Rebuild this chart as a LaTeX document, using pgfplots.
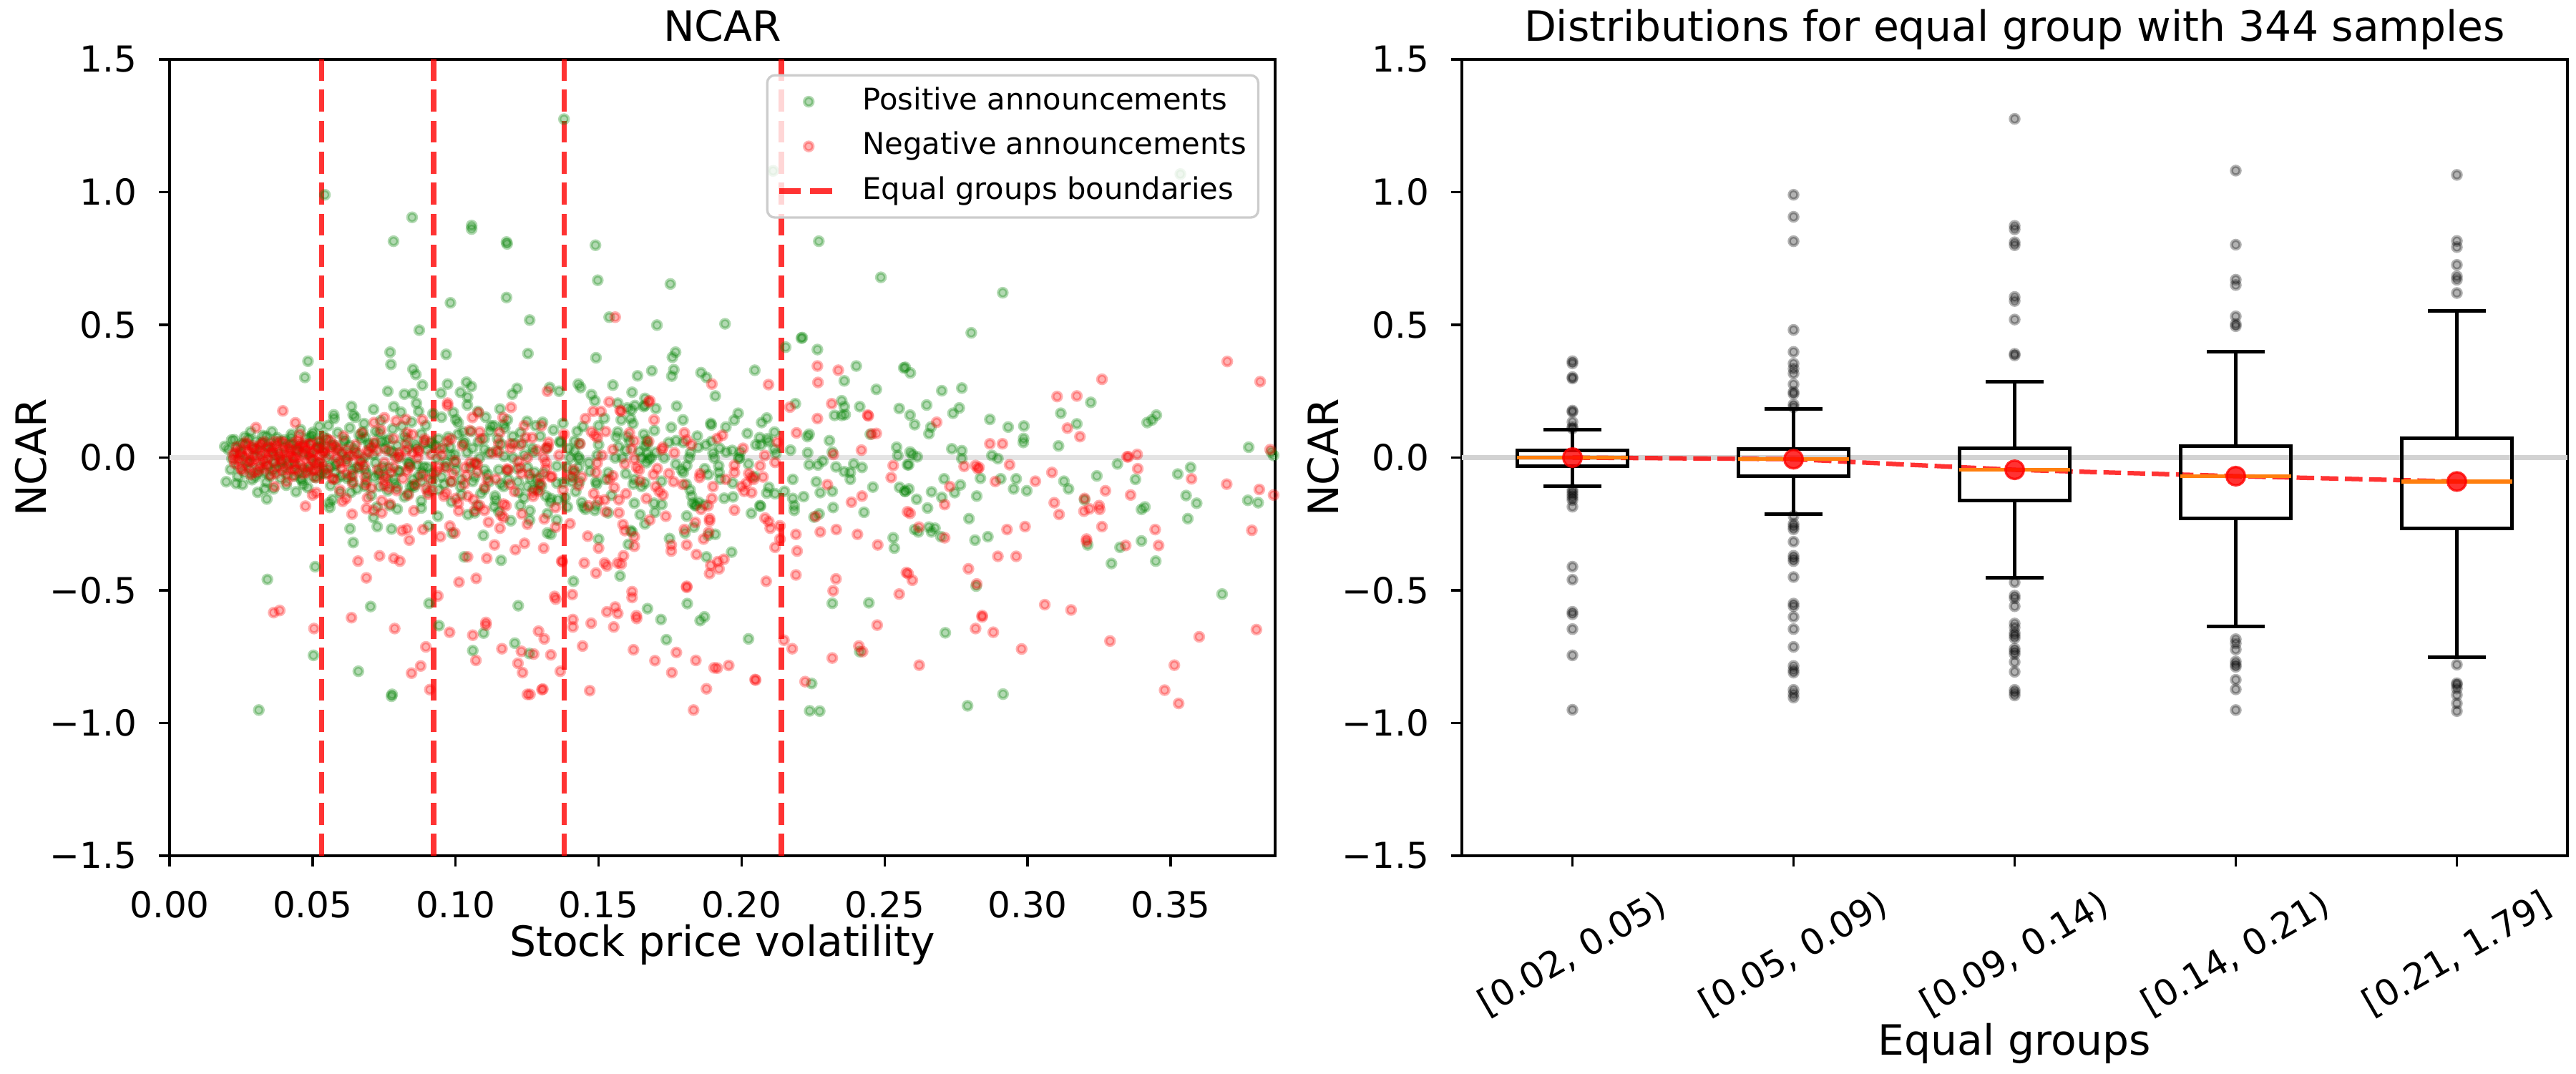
\documentclass[border=0pt]{standalone}
\usepackage{fontspec}
\setmainfont{DejaVu Sans}
\usepackage{pgfplots}
\pgfplotsset{compat=1.18}
\definecolor{mplgreen}{RGB}{0,128,0}
\definecolor{mplorange}{RGB}{255,127,14}
\definecolor{zeroA}{RGB}{228,228,228}
\definecolor{zeroB}{RGB}{210,210,210}
\pgfplotsset{
  mpl/.style={
    scale only axis, width=370.8pt, height=267.12pt, anchor=south west,
    axis line style={line width=0.8pt, black},
    tick align=outside, major tick length=3.5pt, tick pos=left,
    every tick/.style={black, line width=0.8pt},
    ymin=-1.5, ymax=1.5,
    ytick={-1.5,-1,-0.5,0,0.5,1,1.5},
    yticklabels={−1.5,−1.0,−0.5,0.0,0.5,1.0,1.5},
    ticklabel style={font=\fontsize{12}{14}\selectfont},
    yticklabel style={anchor=east, inner sep=0pt, xshift=-7.3pt},
    every axis y label/.style={at={(axis description cs:-0.1119,0.5)}, rotate=90, anchor=base, inner sep=0pt, font=\fontsize{14}{17}\selectfont},
    legend image code/.code={\draw[mark repeat=2,mark phase=2,##1] plot coordinates {(0pt,0pt) (10pt,0pt) (20pt,0pt)};},
  },
  gmark/.style={only marks, mark=*, mark size=1.45pt, mark options={draw=mplgreen, fill=mplgreen, opacity=0.3, line width=1.05pt}},
  rmark/.style={only marks, mark=*, mark size=1.45pt, mark options={draw=red, fill=red, opacity=0.3, line width=1.05pt}},
  kmark/.style={only marks, mark=*, mark size=1.45pt, mark options={draw=black, fill=black, opacity=0.3, line width=1.05pt}},
  bound/.style={red, opacity=0.8, line width=1.8pt, dash pattern=on 7.4pt off 3.0pt},
  bxl/.style={black, line width=1.2pt, line join=miter, unbounded coords=jump, forget plot},
}
\begin{document}
\begin{tikzpicture}
\useasboundingbox (0,0) rectangle (864pt,360pt);
% ---------------- left ----------------
\begin{axis}[mpl, at={(56.88pt,72.96pt)},
  xmin=0, xmax=0.38654,
  xtick={0,0.05,0.1,0.15,0.2,0.25,0.3,0.35},
  xticklabels={0.00,0.05,0.10,0.15,0.20,0.25,0.30,0.35},
  xticklabel style={anchor=north, inner sep=0pt, yshift=-8.1pt},
  every axis x label/.style={at={(axis description cs:0.5,0)}, anchor=north, yshift=-22.8pt, inner sep=0pt, font=\fontsize{14}{17}\selectfont},
  xlabel={Stock price volatility}, ylabel={NCAR},
  extra description/.code={\node[anchor=base, inner sep=0pt, font=\fontsize{14}{17}\selectfont] at (0.5,1.0225) {NCAR};},
  legend style={at={(0.9858,0.9815)}, anchor=north east, draw=black!20, line width=0.8pt,
    rounded corners=2.5pt, fill=white, fill opacity=0.8, text opacity=1,
    font=\fontsize{10}{12}\selectfont, inner xsep=3pt, inner ysep=3pt, row sep=3.3pt,
    nodes={inner sep=1pt, text height=7.5pt, text depth=2.2pt},
    /tikz/every odd column/.append style={column sep=6.2pt}},
  legend cell align=left,
]
\addplot[zeroA, line width=1.5pt, forget plot] coordinates {(0,0) (0.38654,0)};
% positive announcements
\addplot[gmark] coordinates {
(0.0543,0.990)(0.0848,0.905)(0.0783,0.815)(0.1056,0.874)(0.1056,0.861)(0.1178,0.812)(0.1180,0.805)(0.1489,0.800)(0.1379,1.275)(0.1497,0.668)(0.1751,0.654)(0.1178,0.603)(0.0982,0.583)(0.2270,0.815)(0.2487,0.679)(0.2913,0.621)(0.2110,1.080)(0.3534,1.068)
(0.0312,-0.951)(0.0503,-0.745)(0.0660,-0.805)(0.0776,-0.899)(0.0778,-0.892)(0.0942,-0.633)(0.1060,-0.727)(0.1098,-0.661)(0.1207,-0.699)(0.1258,-0.738)(0.1737,-0.686)(0.1718,-0.610)(0.1855,-0.614)(0.1870,-0.600)(0.2024,-0.683)(0.2245,-0.851)(0.2238,-0.954)(0.2273,-0.955)(0.2413,-0.731)(0.2712,-0.660)(0.2790,-0.935)(0.2914,-0.891)
(0.0873,0.480)(0.0484,0.363)(0.0473,0.302)(0.0771,0.397)(0.0774,0.351)(0.0967,0.389)(0.1259,0.518)(0.1253,0.392)(0.0851,0.333)(0.0861,0.313)(0.0884,0.273)(0.0763,0.250)(0.0821,0.239)(0.0851,0.241)(0.0863,0.205)(0.0871,0.174)(0.0949,0.243)(0.0972,0.277)(0.1017,0.246)(0.1038,0.284)(0.1055,0.268)(0.1042,0.228)(0.1041,0.198)(0.1198,0.239)(0.1215,0.261)(0.1155,0.183)(0.1134,0.120)(0.1172,0.111)(0.1168,0.125)(0.0636,0.193)(0.0649,0.152)(0.0574,0.161)(0.0575,0.147)(0.0713,0.182)(0.0784,0.192)(0.0921,0.165)(0.1001,0.143)(0.0992,0.170)(0.1105,0.152)(0.1100,0.071)(0.0217,0.066)(0.0193,0.042)(0.0263,0.078)(0.0338,0.080)(0.0425,0.075)(0.0500,0.084)
(0.0198,-0.091)(0.0255,-0.102)(0.0340,-0.156)(0.0363,-0.118)(0.0442,-0.129)(0.0467,-0.102)(0.0570,-0.158)(0.0560,-0.188)(0.0634,-0.131)(0.0631,-0.268)(0.0642,-0.320)(0.0726,-0.260)(0.0713,-0.226)(0.0776,-0.269)(0.0796,-0.194)(0.0771,-0.181)(0.0795,-0.113)(0.0851,-0.104)(0.0880,-0.163)(0.0880,-0.190)(0.0938,-0.221)(0.0905,-0.257)(0.0988,-0.284)(0.1030,-0.374)(0.1097,-0.293)(0.1159,-0.387)(0.1151,-0.203)(0.1226,-0.180)(0.1259,-0.235)(0.1272,-0.118)(0.1067,-0.208)(0.1076,-0.180)(0.1138,-0.145)(0.0509,-0.411)(0.0342,-0.459)(0.0703,-0.561)(0.0907,-0.549)(0.1219,-0.558)
(0.0676,0.097)(0.0684,0.075)(0.0734,0.093)(0.0717,0.053)(0.0751,0.035)(0.0767,0.070)(0.0834,0.035)(0.0892,0.053)(0.0959,0.035)(0.0984,0.008)(0.1026,0.097)(0.1059,0.035)(0.1084,-0.001)(0.1117,0.017)(0.1143,0.026)(0.1201,-0.001)(0.1234,0.053)(0.1268,0.035)(0.1251,-0.037)(0.1184,-0.082)(0.1151,-0.046)(0.1101,-0.046)(0.1051,-0.037)(0.1001,-0.046)(0.0967,-0.019)(0.0934,-0.001)(0.0901,-0.037)(0.0867,-0.028)(0.0834,-0.019)(0.0801,-0.001)(0.0767,-0.037)(0.0734,-0.055)(0.0717,-0.073)(0.0684,-0.046)(0.0650,-0.037)(0.0617,-0.001)(0.0584,-0.019)(0.0550,-0.001)(0.0517,0.035)(0.0492,0.079)(0.0467,0.017)(0.0434,-0.019)(0.0400,-0.037)(0.0367,-0.019)(0.0334,-0.055)(0.0300,-0.073)(0.0275,-0.019)(0.0250,0.017)(0.0234,0.035)(0.0292,0.035)(0.0350,0.035)(0.0384,0.017)(0.0450,-0.055)(0.0500,-0.073)(0.0542,-0.046)(0.0584,-0.082)(0.0634,-0.073)(0.0684,-0.109)(0.0734,-0.109)(0.0784,-0.082)(0.0851,-0.082)(0.0884,-0.055)(0.0917,-0.091)(0.0951,-0.073)(0.0984,-0.091)(0.1017,-0.109)(0.1067,-0.073)(0.1117,-0.091)(0.1168,-0.109)(0.1218,-0.091)(0.1251,-0.109)(0.1276,-0.055)(0.0834,-0.136)(0.0842,-0.109)(0.1026,0.053)(0.1009,0.088)
(0.024,-0.03)(0.026,0.05)(0.028,-0.045)(0.030,0.03)(0.031,-0.06)(0.032,0.055)(0.033,-0.01)(0.034,0.045)(0.035,-0.07)(0.036,0.02)(0.037,-0.04)(0.038,0.06)(0.039,-0.02)(0.040,0.04)(0.041,-0.065)(0.042,0.01)(0.043,0.05)(0.044,-0.03)(0.045,0.025)(0.046,-0.08)(0.047,0.045)(0.048,-0.05)(0.049,0.015)(0.050,0.06)(0.051,-0.025)(0.052,0.04)(0.053,-0.06)(0.054,0.02)(0.055,0.07)(0.056,-0.035)(0.057,0.05)(0.058,-0.055)(0.059,0.03)(0.060,-0.07)(0.061,0.06)(0.062,-0.01)(0.063,0.045)(0.064,-0.09)(0.065,0.02)(0.066,-0.04)(0.067,0.07)(0.068,0.0)(0.069,-0.06)(0.070,0.04)(0.072,-0.02)(0.074,0.06)(0.076,-0.075)(0.078,0.02)(0.080,-0.05)(0.082,0.08)(0.084,-0.03)(0.086,0.05)(0.088,-0.09)(0.090,0.03)(0.092,-0.06)(0.094,0.07)(0.096,-0.1)(0.098,0.04)(0.100,-0.02)(0.102,-0.14)(0.104,0.02)(0.106,-0.09)(0.108,0.06)(0.110,-0.12)(0.112,0.1)(0.114,-0.16)(0.116,0.05)(0.118,-0.05)(0.120,0.08)(0.122,-0.13)(0.124,0.01)(0.126,-0.2)(0.128,0.12)
(0.0205,0.031)(0.0213,-0.045)(0.0226,0.067)(0.0238,-0.071)(0.0251,0.052)(0.0263,-0.058)(0.0276,0.071)(0.0288,-0.083)(0.0301,0.062)(0.0313,-0.038)(0.0326,0.083)(0.0338,-0.092)(0.0351,0.057)(0.0363,-0.049)(0.0376,0.075)(0.0388,-0.078)(0.0401,0.066)(0.0413,-0.026)(0.0426,0.088)(0.0438,-0.069)(0.0451,0.048)(0.0463,-0.085)(0.0476,0.072)(0.0488,-0.039)(0.0501,0.095)(0.0513,-0.075)(0.0526,0.058)(0.0218,-0.004)(0.0243,0.014)(0.0268,-0.014)(0.0293,0.004)(0.0318,0.024)(0.0343,-0.029)(0.0368,0.007)(0.0393,-0.012)(0.0418,0.051)(0.0443,0.031)(0.0468,-0.041)(0.0493,0.002)(0.0518,-0.021)(0.0531,0.041)(0.0358,0.098)(0.0408,-0.104)(0.0458,0.105)(0.0283,0.097)(0.0333,-0.118)(0.0483,-0.113)(0.0523,0.118)(0.0233,-0.098)(0.0308,-0.131)
(0.0538,0.082)(0.0546,-0.061)(0.0555,0.121)(0.0563,-0.105)(0.0571,0.043)(0.0580,-0.028)(0.0588,0.094)(0.0596,-0.132)(0.0605,0.018)(0.0613,0.067)(0.0621,-0.078)(0.0630,0.112)(0.0638,-0.046)(0.0646,0.033)(0.0655,-0.118)(0.0663,0.085)(0.0671,-0.015)(0.0680,0.128)(0.0688,-0.089)(0.0696,0.052)(0.0705,-0.142)(0.0713,0.011)(0.0721,0.098)(0.0730,-0.064)(0.0738,0.139)(0.0746,-0.035)(0.0755,0.062)(0.0763,-0.125)(0.0771,0.025)(0.0780,0.108)(0.0788,-0.098)(0.0796,0.046)(0.0805,-0.052)(0.0813,0.118)(0.0821,-0.148)(0.0830,0.071)(0.0838,-0.021)(0.0846,0.134)(0.0855,-0.111)(0.0863,0.037)(0.0871,-0.069)(0.0880,0.089)(0.0888,-0.035)(0.0896,0.121)(0.0905,-0.128)(0.0913,0.058)(0.0558,-0.171)(0.0642,0.161)(0.0725,-0.186)(0.0809,0.171)
(0.0928,0.045)(0.0940,-0.121)(0.0951,0.152)(0.0963,-0.034)(0.0974,0.078)(0.0986,-0.167)(0.0997,0.012)(0.1009,0.131)(0.1020,-0.082)(0.1032,0.058)(0.1043,-0.215)(0.1055,0.098)(0.1066,-0.022)(0.1078,0.174)(0.1089,-0.135)(0.1101,0.031)(0.1112,-0.063)(0.1124,0.119)(0.1135,-0.185)(0.1147,0.071)(0.1158,-0.098)(0.1170,0.005)(0.1181,0.142)(0.1193,-0.238)(0.1204,0.052)(0.1216,-0.041)(0.1227,0.094)(0.1239,-0.152)(0.1250,0.137)(0.1262,-0.077)(0.1273,0.021)(0.1285,-0.121)(0.1296,0.081)(0.1308,-0.058)(0.1319,0.034)(0.1331,-0.168)(0.1342,0.104)(0.1354,-0.032)(0.1365,0.061)(0.1376,-0.095)
(0.1395,0.034)(0.1420,-0.128)(0.1445,0.117)(0.1470,-0.052)(0.1495,0.009)(0.1520,0.148)(0.1545,-0.142)(0.1570,0.041)(0.1595,-0.061)(0.1620,0.128)(0.1645,-0.215)(0.1670,0.015)(0.1695,0.102)(0.1720,-0.089)(0.1745,0.057)(0.1770,-0.025)(0.1795,0.142)(0.1820,-0.122)(0.1845,0.081)(0.1870,-0.178)(0.1895,0.061)(0.1920,-0.031)(0.1945,0.115)(0.1970,-0.148)(0.1995,0.021)(0.2020,0.091)(0.2045,-0.071)(0.2070,0.132)(0.2095,-0.112)(0.2120,0.015)
(0.1537,0.529)(0.1704,0.499)(0.1942,0.504)(0.2209,0.450)(0.2212,0.452)(0.2154,0.416)(0.2265,0.407)(0.1491,0.376)(0.1769,0.397)(0.1758,0.378)(0.1763,0.331)(0.1756,0.307)(0.1686,0.327)(0.1636,0.308)(0.1858,0.320)(0.1877,0.302)(0.1908,0.232)(0.2046,0.329)(0.2401,0.345)(0.2359,0.289)(0.2567,0.338)(0.2471,0.257)(0.2188,0.203)(0.2350,0.214)(0.2359,0.192)(0.2325,0.159)(0.2350,0.159)(0.2362,0.162)(0.2413,0.192)(0.2551,0.185)(0.2236,0.088)(0.2230,0.079)(0.2307,0.064)(0.2317,0.021)(0.2450,0.088)(0.2231,0.018)(0.2171,0.028)(0.2236,-0.027)(0.2267,-0.028)(0.2284,-0.013)(0.2330,-0.035)(0.2359,-0.053)(0.2380,-0.056)(0.2392,-0.024)(0.2421,-0.037)(0.2380,-0.082)(0.2261,-0.091)(0.2275,-0.132)(0.2317,-0.127)(0.2459,-0.111)(0.2179,-0.082)(0.2150,-0.127)(0.2179,-0.154)(0.2184,-0.181)(0.2184,-0.199)(0.2217,-0.147)(0.2320,-0.188)(0.2428,-0.206)(0.2253,-0.224)(0.2271,-0.212)(0.2542,0.039)(0.2546,0.008)(0.2584,-0.027)(0.2552,-0.112)(0.2571,-0.127)(0.2530,-0.302)(0.2534,-0.341)(0.2317,-0.549)(0.2445,-0.547)
(0.2088,0.149)(0.2115,0.096)(0.2063,0.075)(0.2094,0.060)(0.2090,0.071)(0.2050,0.048)(0.2067,0.048)(0.2114,0.032)(0.2024,-0.024)(0.2088,-0.134)(0.2117,-0.136)(0.2064,-0.181)(0.2066,-0.183)(0.2034,-0.210)(0.1988,0.167)(0.1974,0.141)(0.1892,0.129)(0.1894,0.123)(0.1923,0.035)(0.1946,0.021)(0.1967,0.027)(0.1990,-0.003)(0.1992,-0.001)(0.1900,0.017)(0.1904,-0.001)(0.1875,0.048)(0.1848,0.039)(0.1821,0.018)(0.1817,-0.001)(0.1808,-0.030)(0.1790,-0.046)(0.1796,-0.056)(0.1871,-0.042)(0.1883,-0.064)(0.1921,-0.056)(0.1925,-0.081)(0.1969,-0.096)(0.1939,-0.153)(0.1806,-0.100)(0.1825,-0.145)(0.1829,-0.172)(0.1838,-0.181)(0.1840,-0.179)(0.1850,-0.168)(0.1808,-0.220)(0.1833,-0.262)(0.1802,-0.284)(0.1883,-0.293)(0.1908,-0.289)(0.1748,-0.305)(0.1877,-0.374)(0.1965,-0.356)(0.1810,-0.550)(0.1671,-0.569)
(0.1754,0.114)(0.1773,0.194)(0.1771,0.064)(0.1796,0.057)(0.1729,-0.001)(0.1700,0.185)(0.1662,0.223)(0.1658,0.192)(0.1662,0.197)(0.1627,0.196)(0.1615,0.180)(0.1617,0.246)(0.1612,0.147)(0.1579,0.142)(0.1600,0.187)(0.1567,0.205)(0.1550,0.273)(0.1658,0.088)(0.1667,0.066)(0.1671,0.052)(0.1662,0.045)(0.1642,0.023)(0.1683,-0.001)(0.1675,-0.006)(0.1667,-0.019)(0.1700,0.020)(0.1650,-0.001)(0.1596,0.028)(0.1583,-0.001)(0.1558,-0.001)(0.1562,0.078)(0.1567,0.097)(0.1600,0.079)(0.1608,0.062)(0.1625,-0.082)(0.1621,-0.100)(0.1650,-0.109)(0.1662,-0.096)(0.1625,-0.172)(0.1694,-0.172)(0.1697,-0.206)(0.1721,-0.177)(0.1662,-0.250)(0.1612,-0.275)(0.1617,-0.280)(0.1604,-0.327)(0.1575,-0.446)(0.1533,-0.208)(0.1500,-0.307)(0.1491,-0.181)(0.1487,-0.199)(0.1454,-0.195)(0.1441,-0.168)(0.1446,-0.186)(0.1491,-0.091)(0.1493,-0.100)(0.1525,-0.082)(0.1533,-0.056)(0.1466,-0.020)(0.1433,-0.006)(0.1429,-0.037)(0.1408,-0.073)(0.1408,-0.091)(0.1429,0.277)(0.1437,0.264)(0.1475,0.237)(0.1487,0.214)(0.1425,0.099)(0.1500,0.120)(0.1500,0.048)(0.1416,0.025)(0.1429,0.003)(0.1375,0.129)(0.1366,0.057)(0.1362,0.250)(0.1329,0.264)(0.1304,0.133)(0.1354,-0.096)(0.1383,-0.150)(0.1391,-0.186)(0.1333,-0.154)(0.1358,-0.159)(0.1316,-0.145)(0.1321,-0.211)(0.1354,-0.235)(0.1321,-0.284)(0.1333,-0.289)(0.1412,-0.466)(0.1291,-0.100)(0.1283,-0.082)(0.1300,-0.109)(0.1400,-0.001)(0.1391,-0.037)(0.1416,-0.055)(0.1433,-0.091)(0.1433,0.053)(0.1416,0.062)
(0.2803,0.470)(0.2572,0.340)(0.2590,0.319)(0.2700,0.252)(0.2770,0.262)(0.2647,0.198)(0.2589,0.160)(0.2605,0.124)(0.2739,0.167)(0.2761,0.187)(0.2662,0.115)(0.2655,0.090)(0.2868,0.144)(0.2932,0.115)(0.2987,0.119)(0.2986,0.072)(0.2985,0.057)(0.3116,0.167)(0.3221,0.208)(0.3172,0.127)(0.3108,0.044)(0.3418,0.132)(0.3435,0.142)(0.3450,0.160)(0.3773,0.039)(0.3852,0.021)(0.3860,0.008)(0.2589,0.021)(0.2597,0.012)(0.2614,0.003)(0.2580,-0.027)(0.2735,0.033)(0.2770,0.026)(0.2770,-0.004)(0.2875,0.008)(0.2896,-0.004)(0.2708,-0.080)(0.2765,-0.103)(0.2745,-0.132)(0.2835,-0.078)(0.2822,-0.145)(0.2906,-0.080)(0.2960,-0.080)(0.2951,-0.118)(0.2997,-0.125)(0.2585,-0.118)(0.2572,-0.127)(0.2664,-0.129)(0.2700,-0.150)(0.2612,-0.157)(0.2650,-0.190)(0.2795,-0.230)(0.2605,-0.271)(0.2618,-0.280)(0.2655,-0.262)(0.2664,-0.280)(0.2676,-0.266)(0.2697,-0.298)(0.2816,-0.311)(0.2861,-0.298)(0.2820,-0.484)(0.3127,-0.089)(0.3143,-0.118)(0.3242,-0.069)(0.3314,-0.024)(0.3377,-0.082)(0.3199,-0.159)(0.3398,-0.195)(0.3410,-0.186)(0.3210,-0.329)(0.3323,-0.338)(0.3398,-0.314)(0.3293,-0.399)(0.3448,-0.390)(0.3525,-0.062)(0.3570,-0.037)(0.3554,-0.143)(0.3591,-0.172)(0.3560,-0.230)(0.3770,-0.161)(0.3806,-0.170)(0.3680,-0.514)
};
\addlegendentry{Positive announcements}
% negative announcements
\addplot[rmark] coordinates {
(0.0396,0.176)(0.0302,0.113)(0.0440,0.131)(0.0455,0.088)(0.0972,0.205)(0.0972,0.196)(0.1194,0.189)(0.1166,0.151)(0.1240,0.120)(0.1268,0.075)(0.1080,0.169)(0.1059,0.151)(0.1084,0.097)(0.0984,0.070)(0.0884,0.142)(0.0892,0.070)(0.0830,0.093)(0.0751,0.150)(0.0792,0.138)(0.0826,0.144)(0.1151,0.053)(0.1193,0.035)(0.1226,0.048)
(0.0250,0.008)(0.0275,0.026)(0.0300,-0.010)(0.0317,0.044)(0.0334,-0.019)(0.0350,0.017)(0.0367,0.061)(0.0384,-0.001)(0.0417,0.017)(0.0434,-0.001)(0.0450,0.035)(0.0467,0.053)(0.0484,0.008)(0.0500,-0.010)(0.0517,-0.037)(0.0534,0.026)(0.0550,0.070)(0.0567,0.035)(0.0584,-0.001)(0.0600,0.017)(0.0617,-0.019)(0.0642,0.008)(0.0667,-0.010)(0.0692,0.026)(0.0726,0.026)(0.0751,-0.019)(0.0784,-0.037)(0.0801,0.017)(0.0826,0.026)(0.0851,0.017)(0.0867,-0.001)(0.0942,-0.037)(0.0967,-0.037)(0.1034,-0.037)(0.1051,-0.019)(0.1076,-0.055)(0.1184,-0.046)(0.1226,-0.037)(0.1251,-0.001)(0.0284,-0.064)(0.0225,-0.006)(0.0409,-0.091)(0.0367,-0.109)(0.0434,-0.046)(0.0500,-0.046)
(0.0475,-0.183)(0.0500,-0.141)(0.0513,-0.132)(0.0596,-0.123)(0.0617,-0.154)(0.0692,-0.152)(0.0638,-0.213)(0.0713,-0.199)(0.0742,-0.208)(0.0742,-0.163)(0.0751,-0.105)(0.0767,-0.114)(0.0684,-0.100)(0.0834,-0.141)(0.0897,-0.118)(0.0917,-0.123)(0.0967,-0.134)(0.1001,-0.154)(0.1009,-0.172)(0.1042,-0.145)(0.1084,-0.181)(0.1101,-0.199)(0.1067,-0.199)(0.1176,-0.181)(0.1159,-0.217)(0.1168,-0.226)(0.0813,-0.275)(0.0830,-0.269)(0.0838,-0.311)(0.0886,-0.271)(0.0947,-0.298)(0.0980,-0.258)(0.0997,-0.284)(0.1155,-0.266)(0.1251,-0.251)(0.1136,-0.329)(0.1209,-0.347)(0.1241,-0.323)(0.1109,-0.379)(0.1042,-0.374)(0.0734,-0.370)(0.0784,-0.379)(0.0805,-0.390)(0.0659,-0.390)(0.0688,-0.453)(0.1012,-0.469)(0.1072,-0.455)(0.0938,-0.521)(0.0364,-0.584)(0.0385,-0.576)
(0.023,0.02)(0.025,-0.04)(0.027,0.05)(0.028,-0.015)(0.029,0.035)(0.031,-0.05)(0.032,0.01)(0.033,0.06)(0.034,-0.03)(0.036,0.04)(0.037,-0.06)(0.038,0.025)(0.039,-0.01)(0.040,0.055)(0.041,-0.045)(0.042,0.03)(0.043,-0.07)(0.044,0.0)(0.045,0.065)(0.046,-0.025)(0.047,0.04)(0.048,-0.055)(0.049,0.05)(0.050,0.02)(0.051,-0.075)(0.052,0.06)(0.053,-0.02)(0.054,0.035)(0.055,-0.06)(0.056,0.01)(0.057,-0.08)(0.058,0.045)(0.060,-0.04)(0.062,0.03)(0.064,-0.065)(0.066,0.015)(0.068,-0.03)(0.071,0.04)(0.075,-0.07)(0.079,0.0)(0.083,-0.05)(0.087,0.03)(0.091,-0.08)(0.095,0.01)(0.099,-0.06)(0.103,-0.1)(0.107,-0.02)(0.111,-0.08)(0.115,0.02)(0.119,-0.1)(0.123,-0.06)(0.127,-0.13)
(0.0222,0.012)(0.0228,-0.022)(0.0235,0.041)(0.0241,-0.008)(0.0247,0.027)(0.0253,-0.047)(0.0259,0.003)(0.0266,0.058)(0.0272,-0.031)(0.0278,0.019)(0.0284,-0.012)(0.0291,0.044)(0.0297,-0.055)(0.0303,0.006)(0.0309,0.032)(0.0316,-0.024)(0.0322,0.051)(0.0328,-0.041)(0.0334,0.014)(0.0341,-0.004)(0.0347,0.038)(0.0353,-0.066)(0.0359,0.021)(0.0366,-0.017)(0.0372,0.047)(0.0378,-0.035)(0.0384,0.009)(0.0391,0.061)(0.0397,-0.051)(0.0403,0.025)(0.0409,-0.009)(0.0416,0.036)(0.0422,-0.028)(0.0428,0.002)(0.0434,0.055)(0.0441,-0.043)(0.0447,0.017)(0.0453,-0.019)(0.0459,0.043)(0.0466,-0.061)(0.0472,0.011)(0.0478,0.029)(0.0484,-0.033)(0.0491,0.052)(0.0497,-0.006)(0.0503,0.023)(0.0509,-0.048)(0.0516,0.037)(0.0522,-0.015)(0.0528,0.008)
(0.0541,0.021)(0.0552,-0.043)(0.0563,0.064)(0.0574,-0.081)(0.0585,0.035)(0.0596,-0.018)(0.0607,0.081)(0.0618,-0.062)(0.0629,0.008)(0.0640,-0.097)(0.0651,0.048)(0.0662,-0.031)(0.0673,0.093)(0.0684,-0.072)(0.0695,0.017)(0.0706,-0.115)(0.0717,0.058)(0.0728,-0.044)(0.0739,0.104)(0.0750,-0.088)(0.0761,0.028)(0.0772,-0.056)(0.0783,0.071)(0.0794,-0.124)(0.0805,0.005)(0.0816,-0.079)(0.0827,0.051)(0.0838,-0.036)(0.0849,0.087)(0.0860,-0.101)(0.0871,0.022)(0.0882,-0.068)(0.0893,0.062)(0.0904,-0.138)(0.0915,0.012)(0.0605,-0.165)(0.0688,-0.192)(0.0771,-0.175)(0.0854,-0.201)(0.0715,0.132)
(0.0933,-0.052)(0.0946,0.033)(0.0959,-0.145)(0.0972,0.061)(0.0985,-0.091)(0.0998,-0.012)(0.1011,-0.201)(0.1024,0.045)(0.1037,-0.068)(0.1050,0.102)(0.1063,-0.158)(0.1076,-0.025)(0.1089,0.071)(0.1102,-0.112)(0.1115,-0.243)(0.1128,0.018)(0.1141,-0.081)(0.1154,0.094)(0.1167,-0.175)(0.1180,-0.043)(0.1193,0.052)(0.1206,-0.128)(0.1219,-0.015)(0.1232,-0.212)(0.1245,0.076)(0.1258,-0.062)(0.1271,-0.146)(0.1284,0.028)(0.1297,-0.098)(0.1310,-0.231)(0.1323,0.041)(0.1336,-0.071)(0.1349,-0.188)(0.1362,0.009)(0.1375,-0.121)
(0.1405,-0.071)(0.1435,0.052)(0.1465,-0.182)(0.1495,-0.021)(0.1525,0.098)(0.1555,-0.113)(0.1585,-0.252)(0.1615,0.031)(0.1645,-0.088)(0.1675,0.061)(0.1705,-0.041)(0.1735,-0.221)(0.1765,0.018)(0.1795,-0.101)(0.1825,0.048)(0.1855,-0.061)(0.1885,-0.281)(0.1915,0.072)(0.1945,-0.082)(0.1975,-0.198)(0.2005,0.035)(0.2035,-0.132)(0.2065,-0.031)(0.2095,-0.241)(0.2125,0.058)
(0.1558,0.529)(0.1321,0.250)(0.1300,0.120)(0.1325,0.057)(0.1316,0.035)(0.1308,-0.001)(0.1316,-0.019)(0.1316,-0.042)(0.1333,-0.073)(0.1296,-0.073)(0.1291,-0.127)(0.1379,0.088)(0.1454,0.147)(0.1481,0.174)(0.1508,0.174)(0.1475,0.097)(0.1487,0.084)(0.1496,0.075)(0.1537,0.210)(0.1550,0.030)(0.1512,0.008)(0.1412,-0.046)(0.1429,-0.105)(0.1441,-0.073)(0.1491,-0.056)(0.1483,-0.136)(0.1500,-0.163)(0.1521,-0.159)(0.1525,-0.204)(0.1537,-0.082)(0.1550,-0.069)(0.1575,0.178)(0.1579,0.174)(0.1608,0.093)(0.1625,0.062)(0.1679,0.214)(0.1675,0.210)(0.1694,0.142)(0.1625,-0.006)(0.1633,-0.037)(0.1642,-0.046)(0.1592,-0.024)(0.1571,-0.159)(0.1596,-0.136)(0.1571,-0.208)(0.1667,-0.154)(0.1692,-0.064)(0.1700,-0.109)(0.1712,-0.127)(0.1725,-0.141)(0.1725,0.039)(0.1721,0.030)(0.1746,-0.060)(0.1762,-0.091)(0.1679,-0.235)(0.1592,-0.275)(0.1625,-0.298)(0.1625,-0.334)(0.1800,0.093)(0.1808,0.066)(0.1853,-0.075)(0.1896,0.277)(0.1933,0.084)(0.1900,-0.109)(0.1896,-0.154)(0.1883,-0.181)(0.1888,-0.230)(0.1888,-0.239)(0.1858,-0.195)(0.1838,-0.244)(0.1800,-0.271)(0.1867,-0.307)(0.1808,-0.329)(0.1754,-0.329)(0.1754,-0.352)(0.1842,-0.365)(0.1892,-0.406)(0.1917,-0.392)(0.1938,-0.383)(0.1921,-0.419)(0.1888,-0.437)(0.1808,-0.485)(0.1808,-0.489)
(0.1975,-0.029)(0.1975,-0.056)(0.2000,-0.109)(0.2009,-0.127)(0.2025,-0.060)(0.2034,-0.073)(0.2042,-0.082)(0.2075,-0.073)(0.2017,-0.096)(0.2081,0.008)(0.2117,-0.018)(0.2094,0.275)(0.2082,-0.228)(0.2100,-0.266)(0.2134,-0.257)(0.2134,-0.307)(0.2117,-0.338)(0.2086,-0.466)(0.2190,-0.289)(0.2194,-0.352)(0.2190,-0.442)(0.2169,0.190)(0.2192,0.093)(0.2265,0.345)(0.2267,0.283)(0.2338,0.329)(0.2315,0.203)(0.2265,0.147)(0.2441,0.160)(0.2443,0.157)(0.2471,0.091)(0.2455,0.089)(0.2419,0.028)(0.2321,0.012)(0.2300,-0.102)(0.2384,-0.168)(0.2421,-0.145)(0.2259,-0.222)(0.2275,-0.280)(0.2331,-0.271)(0.2405,-0.289)(0.2476,-0.329)(0.2330,-0.457)(0.2320,-0.502)(0.2551,-0.514)(0.2530,-0.030)(0.2523,-0.075)(0.2580,-0.204)(0.2576,-0.433)(0.1308,-0.341)(0.1350,-0.262)(0.1400,-0.249)(0.1462,-0.296)(0.1500,-0.341)(0.1371,-0.390)(0.1373,-0.392)(0.1450,-0.397)(0.1491,-0.435)(0.1521,-0.397)(0.1529,-0.408)(0.1567,-0.397)(0.1579,-0.401)(0.1587,-0.370)(0.1408,-0.516)(0.1346,-0.523)(0.1350,-0.533)(0.1617,-0.505)(0.1617,-0.527)(0.1558,-0.563)(0.1529,-0.581)(0.1567,-0.587)
(0.3698,0.362)(0.3813,0.286)(0.3260,0.295)(0.3103,0.230)(0.3172,0.232)(0.3139,0.111)(0.3183,0.079)(0.2682,0.133)(0.2868,0.052)(0.2912,0.052)(0.3348,0.003)(0.3352,0.003)(0.3383,0.012)(0.3848,0.030)(0.2778,-0.033)(0.2818,-0.030)(0.2826,-0.042)(0.2830,-0.037)(0.2937,-0.027)(0.3085,-0.056)(0.3027,-0.089)(0.2887,-0.090)(0.2728,-0.109)(0.3385,-0.042)(0.3573,-0.080)(0.3696,-0.100)(0.3810,-0.120)(0.3860,-0.141)(0.2710,-0.177)(0.2589,-0.210)(0.3272,-0.125)(0.3360,-0.141)(0.3093,-0.170)(0.3110,-0.214)(0.3199,-0.154)(0.3197,-0.202)(0.3216,-0.193)(0.3250,-0.181)(0.3252,-0.195)(0.3260,-0.260)(0.2620,-0.262)(0.2710,-0.302)(0.2928,-0.271)(0.2991,-0.260)(0.3206,-0.307)(0.3206,-0.316)(0.3343,-0.331)(0.3446,-0.271)(0.3458,-0.331)(0.3784,-0.274)(0.2896,-0.372)(0.2960,-0.372)(0.2793,-0.419)(0.2582,-0.437)(0.2597,-0.462)(0.2822,-0.476)(0.3060,-0.554)(0.3152,-0.574)(0.2841,-0.595)
(0.0505,-0.644)(0.0636,-0.603)(0.0787,-0.644)(0.0896,-0.713)(0.0878,-0.785)(0.0846,-0.812)(0.0910,-0.874)(0.0979,-0.658)(0.1060,-0.669)(0.1106,-0.631)(0.1106,-0.621)(0.1071,-0.764)(0.1162,-0.720)(0.1218,-0.775)(0.1234,-0.810)(0.1230,-0.730)(0.1273,-0.740)(0.1251,-0.892)(0.1260,-0.892)(0.1302,-0.874)(0.1305,-0.872)(0.1290,-0.654)(0.1310,-0.683)(0.1333,-0.743)(0.1366,-0.805)(0.1410,-0.610)(0.1410,-0.638)(0.1444,-0.710)(0.1474,-0.624)(0.1469,-0.878)(0.1553,-0.638)(0.1622,-0.724)(0.1697,-0.765)(0.1756,-0.810)(0.1772,-0.734)(0.1832,-0.951)(0.1840,-0.764)(0.1877,-0.871)(0.1904,-0.792)(0.1633,-0.606)(0.1632,-0.596)(0.1955,-0.783)(0.1915,-0.793)(0.2047,-0.836)(0.2049,-0.838)(0.2148,-0.688)(0.2177,-0.720)(0.2222,-0.844)(0.2317,-0.755)(0.2410,-0.710)(0.2423,-0.731)(0.2474,-0.631)(0.2621,-0.782)(0.2818,-0.644)(0.2841,-0.600)(0.2880,-0.658)(0.2979,-0.721)(0.3288,-0.691)(0.3513,-0.782)(0.3479,-0.876)(0.3528,-0.926)(0.3600,-0.675)(0.3800,-0.648)
};
\addlegendentry{Negative announcements}
\addplot[bound] coordinates {(0.0532,-1.5) (0.0532,1.5)};
\addlegendentry{Equal groups boundaries}
\addplot[bound, forget plot] coordinates {(0.0923,-1.5) (0.0923,1.5)};
\addplot[bound, forget plot] coordinates {(0.1380,-1.5) (0.1380,1.5)};
\addplot[bound, forget plot] coordinates {(0.2139,-1.5) (0.2139,1.5)};
\end{axis}
% ---------------- right ----------------
\begin{axis}[mpl, at={(490.32pt,72.96pt)},
  xmin=0.5, xmax=5.5,
  xtick={1,2,3,4,5},
  xticklabels={{[0.02, 0.05)},{[0.05, 0.09)},{[0.09, 0.14)},{[0.14, 0.21)},{[0.21, 1.79]}},
  xticklabel style={yshift=-29.5pt, rotate=30, anchor=center, inner sep=0pt},
  every axis x label/.style={at={(axis description cs:0.5,0)}, anchor=north, yshift=-55.9pt, inner sep=0pt, font=\fontsize{14}{17}\selectfont},
  xlabel={Equal groups}, ylabel={NCAR},
  extra description/.code={\node[anchor=base, inner sep=0pt, font=\fontsize{14}{17}\selectfont] at (0.5,1.0225) {Distributions for equal group with 344 samples};},
]
\addplot[zeroB, line width=1.5pt] coordinates {(0.5,0) (5.5,0)};
\addplot[red, opacity=0.8, line width=1.5pt, dash pattern=on 5.9pt off 2.2pt, mark=*, mark size=3.1pt, mark options={solid, fill=red, line width=0.8pt}]
  coordinates {(1,0.000) (2,-0.006) (3,-0.046) (4,-0.070) (5,-0.090)};
% boxes, whiskers and caps
\addplot[bxl] coordinates {(1,-0.031)(1.25,-0.031)(1.25,0.026)(0.75,0.026)(0.75,-0.031)(1,-0.031)(nan,nan)(1,0.026)(1,0.106)(nan,nan)(0.87,0.106)(1.13,0.106)(nan,nan)(1,-0.031)(1,-0.107)(nan,nan)(0.87,-0.107)(1.13,-0.107)};
\addplot[bxl] coordinates {(2,-0.069)(2.25,-0.069)(2.25,0.033)(1.75,0.033)(1.75,-0.069)(2,-0.069)(nan,nan)(2,0.033)(2,0.183)(nan,nan)(1.87,0.183)(2.13,0.183)(nan,nan)(2,-0.069)(2,-0.214)(nan,nan)(1.87,-0.214)(2.13,-0.214)};
\addplot[bxl] coordinates {(3,-0.163)(3.25,-0.163)(3.25,0.035)(2.75,0.035)(2.75,-0.163)(3,-0.163)(nan,nan)(3,0.035)(3,0.285)(nan,nan)(2.87,0.285)(3.13,0.285)(nan,nan)(3,-0.163)(3,-0.454)(nan,nan)(2.87,-0.454)(3.13,-0.454)};
\addplot[bxl] coordinates {(4,-0.229)(4.25,-0.229)(4.25,0.044)(3.75,0.044)(3.75,-0.229)(4,-0.229)(nan,nan)(4,0.044)(4,0.399)(nan,nan)(3.87,0.399)(4.13,0.399)(nan,nan)(4,-0.229)(4,-0.637)(nan,nan)(3.87,-0.637)(4.13,-0.637)};
\addplot[bxl] coordinates {(5,-0.268)(5.25,-0.268)(5.25,0.074)(4.75,0.074)(4.75,-0.268)(5,-0.268)(nan,nan)(5,0.074)(5,0.552)(nan,nan)(4.87,0.552)(5.13,0.552)(nan,nan)(5,-0.268)(5,-0.753)(nan,nan)(4.87,-0.753)(5.13,-0.753)};
% medians
\addplot[mplorange, line width=1.3pt, unbounded coords=jump] coordinates {(0.75,0.000)(1.25,0.000)(nan,nan)(1.75,-0.006)(2.25,-0.006)(nan,nan)(2.75,-0.046)(3.25,-0.046)(nan,nan)(3.75,-0.070)(4.25,-0.070)(nan,nan)(4.75,-0.090)(5.25,-0.090)};
% fliers
\addplot[kmark] coordinates {
(1,0.363)(1,0.355)(1,0.303)(1,0.298)(1,0.177)(1,0.172)(1,0.134)(1,0.115)(1,0.110)(1,-0.120)(1,-0.130)(1,-0.140)(1,-0.150)(1,-0.160)(1,-0.185)(1,-0.411)(1,-0.460)(1,-0.581)(1,-0.590)(1,-0.646)(1,-0.745)(1,-0.950)
(2,0.990)(2,0.907)(2,0.815)(2,0.481)(2,0.398)(2,0.354)(2,0.335)(2,0.317)(2,0.276)(2,0.247)(2,0.240)(2,0.200)(2,0.190)(2,-0.220)(2,-0.250)(2,-0.260)(2,-0.270)(2,-0.317)(2,-0.370)(2,-0.380)(2,-0.390)(2,-0.450)(2,-0.550)(2,-0.560)(2,-0.600)(2,-0.646)(2,-0.713)(2,-0.785)(2,-0.800)(2,-0.810)(2,-0.875)(2,-0.890)(2,-0.904)
(3,1.276)(3,0.873)(3,0.860)(3,0.811)(3,0.800)(3,0.605)(3,0.590)(3,0.520)(3,0.391)(3,0.385)(3,-0.470)(3,-0.520)(3,-0.530)(3,-0.560)(3,-0.625)(3,-0.640)(3,-0.660)(3,-0.670)(3,-0.680)(3,-0.720)(3,-0.730)(3,-0.740)(3,-0.770)(3,-0.807)(3,-0.875)(3,-0.885)(3,-0.896)
(4,1.081)(4,0.802)(4,0.670)(4,0.650)(4,0.532)(4,0.503)(4,0.495)(4,-0.684)(4,-0.700)(4,-0.723)(4,-0.768)(4,-0.780)(4,-0.788)(4,-0.837)(4,-0.873)(4,-0.951)
(5,1.065)(5,0.816)(5,0.793)(5,0.726)(5,0.683)(5,0.670)(5,0.620)(5,-0.780)(5,-0.850)(5,-0.855)(5,-0.870)(5,-0.894)(5,-0.926)(5,-0.955)
};
\end{axis}
\end{tikzpicture}
\end{document}
